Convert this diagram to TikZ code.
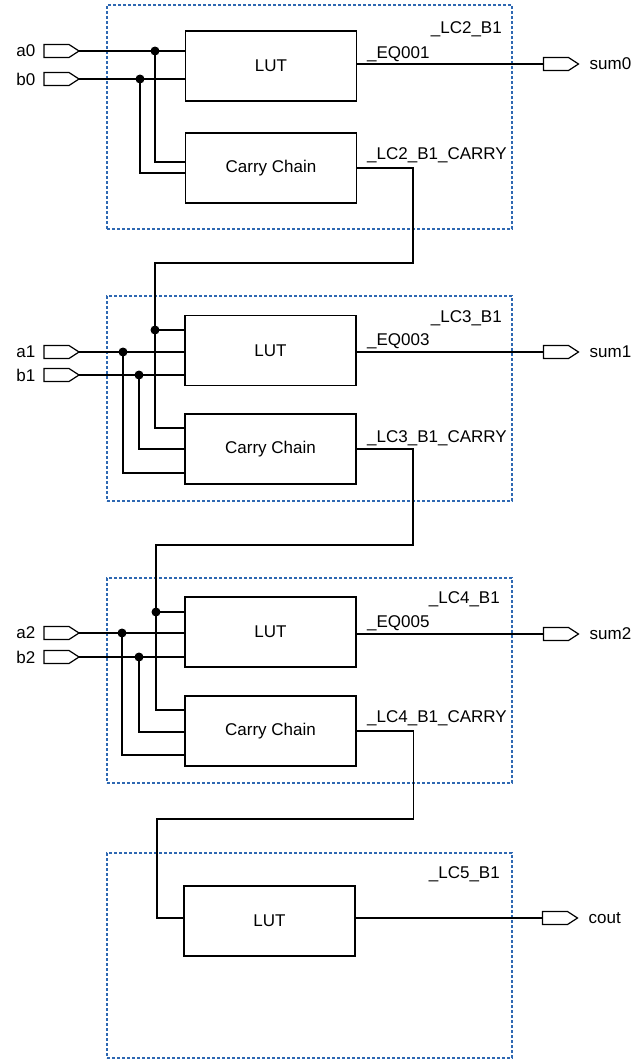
\documentclass[tikz,border=0pt]{standalone}
\usepackage{fontspec}
\setmainfont{Liberation Sans}
\usetikzlibrary{shapes.symbols}
\definecolor{dashblue}{RGB}{46,104,178}
\begin{document}
\begin{tikzpicture}[x=1pt,y=-1pt,
  every node/.style={font=\fontsize{17}{20}\selectfont},
  blk/.style={draw=dashblue, line width=1.3pt, dash pattern=on 3pt off 2pt, minimum width=405pt, inner sep=0pt, outer sep=0pt},
  unit/.style={draw, line width=1.4pt, minimum width=171pt, minimum height=70pt, inner sep=0pt, outer sep=0pt},
  pin/.style={shape=signal, signal to=east, draw, line width=1.2pt, fill=white, minimum width=35pt, minimum height=13pt, inner sep=0pt, outer sep=0pt, signal pointer angle=66},
  wire/.style={line width=1.3pt},
  dot/.style={circle, fill, inner sep=0pt, minimum size=9pt},
  lbl/.style={inner sep=0pt}
]
\useasboundingbox (0,0) rectangle (632,1060);

% ---------- dashed blocks ----------
\node[blk, minimum height=224pt] (blk1) at (309.5,117) {};
\node[blk, minimum height=205pt] (blk2) at (309.5,398.5) {};
\node[blk, minimum height=205pt] (blk3) at (309.5,680.5) {};
\node[blk, minimum height=205pt] (blk4) at (309.5,955.5) {};

\node[lbl, anchor=base east] (t1) at (502,33) {\_LC2\_B1};
\node[lbl, anchor=base east] (t2) at (502,322) {\_LC3\_B1};
\node[lbl, anchor=base east] (t3) at (500,603) {\_LC4\_B1};
\node[lbl, anchor=base east] (t4) at (500,878) {\_LC5\_B1};

% ---------- units ----------
\node[unit] (lut1) at (271,66) {LUT};
\node[unit] (cc1) at (271,168) {Carry Chain};
\node[unit] (lut2) at (270.5,350.5) {LUT};
\node[unit] (cc2) at (270.5,449) {Carry Chain};
\node[unit] (lut3) at (270.5,632) {LUT};
\node[unit] (cc3) at (270.5,731) {Carry Chain};
\node[unit] (lut4) at (269.5,921) {LUT};

\node[lbl, anchor=base west] (eq1) at (367,58) {\_EQ001};
\node[lbl, anchor=base west] (cl1) at (367,159) {\_LC2\_B1\_CARRY};
\node[lbl, anchor=base west] (eq2) at (367,345) {\_EQ003};
\node[lbl, anchor=base west] (cl2) at (367,442) {\_LC3\_B1\_CARRY};
\node[lbl, anchor=base west] (eq3) at (367,627) {\_EQ005};
\node[lbl, anchor=base west] (cl3) at (367,722) {\_LC4\_B1\_CARRY};

% ---------- pins ----------
\node[pin] (a0) at (56.5,51) {};
\node[pin] (b0) at (56.5,79) {};
\node[pin] (a1) at (56.5,352) {};
\node[pin] (b1) at (56.5,375) {};
\node[pin] (a2) at (56.5,633) {};
\node[pin] (b2) at (56.5,657) {};
\node[pin] (sum0) at (556,64) {};
\node[pin] (sum1) at (556,352) {};
\node[pin] (sum2) at (556,634) {};
\node[pin] (cout) at (555,918) {};

\foreach \p in {a0,b0,a1,b1,a2,b2}
  \node[lbl, anchor=east] (l\p) at ([xshift=-8.5pt]\p.west) {\p};
\foreach \p in {sum0,sum1,sum2,cout}
  \node[lbl, anchor=west] (l\p) at ([xshift=11pt]\p.east) {\p};

% ---------- junctions ----------
\node[dot] (ja0) at (155,51) {};
\node[dot] (jb0) at (140,79) {};
\node[dot] (cj2) at (155,330) {};
\node[dot] (ja1) at (123,352) {};
\node[dot] (jb1) at (139,375) {};
\node[dot] (cj3) at (156,612) {};
\node[dot] (ja2) at (122,633) {};
\node[dot] (jb2) at (139,657) {};
\coordinate (k1) at (413,263);
\coordinate (k2) at (413,545);
\coordinate (k3) at (413.5,819);
\coordinate (k4) at (157,918);

% ---------- block 1 wires ----------
\draw[wire] (a0.east) -- (a0.east -| lut1.west);
\draw[wire] (b0.east) -- (b0.east -| lut1.west);
\draw[wire] (ja0.center) |- ([yshift=6pt]cc1.west);
\draw[wire] (jb0.center) |- ([yshift=-5pt]cc1.west);
\draw[wire] (lut1.east |- sum0.west) -- (sum0.west);
\draw[wire] (cc1.east) -| (k1) -| (cj2.center);

% ---------- block 2 wires ----------
\draw[wire] (a1.east) -- (a1.east -| lut2.west);
\draw[wire] (b1.east) -- (b1.east -| lut2.west);
\draw[wire] (cj2.center) -- (cj2.center -| lut2.west);
\draw[wire] (cj2.center) |- ([yshift=21pt]cc2.west);
\draw[wire] (jb1.center) |- (cc2.west);
\draw[wire] (ja1.center) |- ([yshift=-24pt]cc2.west);
\draw[wire] (lut2.east |- sum1.west) -- (sum1.west);
\draw[wire] (cc2.east) -| (k2) -| (cj3.center);

% ---------- block 3 wires ----------
\draw[wire] (a2.east) -- (a2.east -| lut3.west);
\draw[wire] (b2.east) -- (b2.east -| lut3.west);
\draw[wire] (cj3.center) -- (cj3.center -| lut3.west);
\draw[wire] (cj3.center) |- ([yshift=21pt]cc3.west);
\draw[wire] (jb2.center) |- ([yshift=-1pt]cc3.west);
\draw[wire] (ja2.center) |- ([yshift=-24pt]cc3.west);
\draw[wire] (lut3.east |- sum2.west) -- (sum2.west);
\draw[wire] (cc3.east) -| (k3) -| (k4) -- (k4 -| lut4.west);

% ---------- block 4 wires ----------
\draw[wire] (lut4.east |- cout.west) -- (cout.west);
\end{tikzpicture}
\end{document}
